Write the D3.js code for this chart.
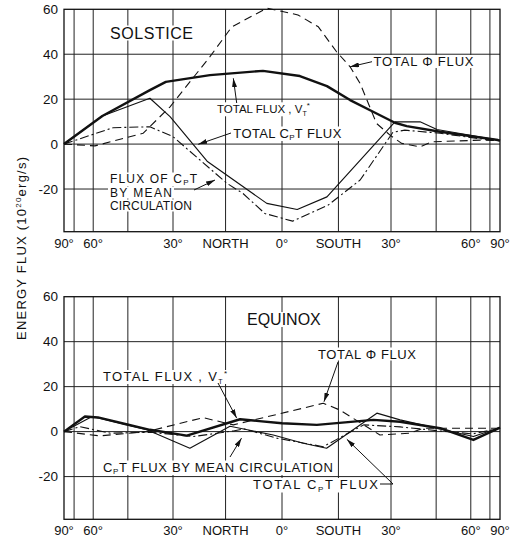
<!DOCTYPE html>
<html>
<head>
<meta charset="utf-8">
<script src="https://cdn.jsdelivr.net/npm/d3@7"></script>
<style>
  html, body { margin: 0; padding: 0; background: #fff; }
  svg { display: block; }
  text { font-family: "Liberation Sans", Arial, sans-serif; fill: #111; }
</style>
</head>
<body>
<svg id="chart" width="524" height="538"></svg>
<script>
// ---- Solstice: meridional energy flux by latitude (10^20 erg/s) ----
const solTotalLat = [90, 55.5, 37.3, 32.2, 19.3, 5, -4.7, -11.9, -18.2, -24.7, -31.2, -34.9, -46.5, -82, -90];
const solTotalVal = [0, 12.5, 24.0, 27.7, 30.7, 32.6, 30.3, 25.8, 19.6, 14.4, 9.5, 8.0, 5.5, 1.8, 1.5];

const solCpTLat = [90, 55.5, 37.3, 30.9, 20.1, 4, -4, -11.9, -31.2, -39.3, -45.3, -82, -90];
const solCpTVal = [0, 12.5, 20.4, 12.2, -7.6, -26.4, -29.1, -23.5, 9.9, 9.9, 6.5, 1.8, 1.5];

const solMeanLat = [90, 50.8, 37.3, 30, 22.1, 14.6, 10.3, 4.5, -2.8, -12.2, -21, -30.6, -34.3, -46.5, -67.2, -90];
const solMeanVal = [0, 7.3, 7.7, 3.3, -7.1, -17.5, -22.0, -30.9, -34.3, -27.2, -16.0, 5.3, 6.2, 4.8, 2.2, 1.5];

const solPhiLat = [90, 59.1, 39.6, 30.9, 19.3, 13.3, 4, -4.2, -9.6, -14.5, -18.2, -21, -25.7, -29.7, -33.3, -39.3, -43.4, -67.2, -90];
const solPhiVal = [0, -0.8, 4.8, 16.6, 38.9, 52.2, 60.5, 57.5, 52.2, 41.1, 34.4, 27.0, 9.2, 4.0, 0.3, -1.2, 1.0, 1.8, 1.5];

// ---- Equinox ----
const eqTotalLat = [90, 64.7, 57.6, 46, 37.3, 25.9, 11.1, 0, -9.2, -24.8, -32.8, -46.5, -61.4, -90];
const eqTotalVal = [0, 6.7, 6.3, 3.4, 0.8, -1.8, 5.5, 3.7, 3.0, 5.2, 4.4, 1.5, -3.7, 1.8];

const eqCpTLat = [90, 60.6, 38.3, 25, 13.8, 2.3, -5.6, -11.8, -25.8, -32.8, -61.4, -90];
const eqCpTVal = [0, 6.7, 0.8, -7.4, 2.4, -1.5, -5.2, -7.4, 8.2, 5.2, -2.2, 1.8];

const eqMeanLat = [90, 68, 52, 37, 24, 12.9, 10, 1.4, -10.9, -22, -32.8, -46.5, -61, -90];
const eqMeanVal = [0, 2.2, -0.7, -0.3, -2.2, 0.3, 1.2, -2.9, -6.7, 3.0, 2.1, 0.3, -1.0, 1.5];

const eqPhiLat = [90, 56.6, 38.3, 21.2, 12.9, -10.9, -15.4, -26.7, -36, -40.4, -90];
const eqPhiVal = [0, -1.9, 0, 6.2, 3.0, 12.6, 9.6, -1.5, -0.7, 1.5, 1.5];

// ---- Axes ----
const yTicks = [60, 40, 20, 0, -20];
const yDomain = [-39, 60];
const gridLats = [72.5, 60, 45, 30, 15, 0, -15, -30, -45, -60, -72.5];
const xTickLats = [90, 60, 30, 15, 0, -15, -30, -60, -90];
const xTickLabels = ["90°", "60°", "30°", "NORTH", "0°", "SOUTH", "30°", "60°", "90°"];

const svg = d3.select("#chart");
const rad = Math.PI / 180;
const left = 64, right = 500;
// area-weighted latitude axis: position is linear in sin(latitude), north on the left
const x = d3.scaleLinear().domain([1, -1]).range([left, right]);
const xLat = lat => x(Math.sin(lat * rad));

const defs = svg.append("defs");
defs.append("marker")
  .attr("id", "head")
  .attr("viewBox", "0 0 9 5")
  .attr("refX", 9).attr("refY", 2.5)
  .attr("markerWidth", 9).attr("markerHeight", 5)
  .attr("markerUnits", "userSpaceOnUse")
  .attr("orient", "auto")
  .append("path").attr("d", "M0,0 L9,2.5 L0,5 Z").attr("fill", "#111");

const zip = (lats, vals) => lats.map((lat, i) => ({ lat, v: vals[i] }));

const styles = {
  total: { w: 2.4, dash: null },
  cpt:   { w: 1.15, dash: null },
  mean:  { w: 1.1, dash: "9,3,2,3" },
  phi:   { w: 1.1, dash: "8,5" }
};

// tspan helpers for the C_pT and V_T* symbols
function cpT(t) {
  t.append("tspan").text("C");
  t.append("tspan").attr("font-size", 8).attr("dy", 2.5).text("P");
  t.append("tspan").attr("dy", -2.5).text("T");
}
function vT(t) {
  t.append("tspan").text("V");
  t.append("tspan").attr("font-size", 7).attr("dy", 3).text("T");
  t.append("tspan").attr("font-size", 8).attr("dy", -8).text("*");
}

const panels = [
  {
    top: 9.3, bottom: 231.7, tickY: 248.3,
    series: [
      { data: zip(solPhiLat, solPhiVal), s: styles.phi },
      { data: zip(solMeanLat, solMeanVal), s: styles.mean },
      { data: zip(solCpTLat, solCpTVal), s: styles.cpt },
      { data: zip(solTotalLat, solTotalVal), s: styles.total }
    ],
    labels: [
      { x: 110, y: 38.5, size: 16, len: 83, build: t => t.text("SOLSTICE") },
      { x: 373.5, y: 66, size: 13, len: 100, build: t => t.text("TOTAL Φ FLUX") },
      { x: 217, y: 113.3, size: 11.5, len: 92, build: t => { t.append("tspan").text("TOTAL FLUX , "); vT(t); } },
      { x: 233.3, y: 137.5, size: 13, len: 108, build: t => { t.append("tspan").text("TOTAL "); cpT(t); t.append("tspan").text(" FLUX"); } },
      { x: 110, y: 182.5, size: 12, len: 87, build: t => { t.append("tspan").text("FLUX OF "); cpT(t); } },
      { x: 110, y: 196.5, size: 12, len: 62, build: t => t.text("BY MEAN") },
      { x: 110, y: 209.5, size: 12, len: 82, build: t => t.text("CIRCULATION") }
    ],
    arrows: [
      { from: [[372, 61.7]], to: [-18.2, 34.4] },
      { from: [[236.7, 103]], to: [12.9, 29.3] },
      { from: [[231, 133]], to: [22.6, -0.1] },
      { from: [[194, 190]], to: [17.9, -16] }
    ]
  },
  {
    top: 296.7, bottom: 519.3, tickY: 535,
    series: [
      { data: zip(eqPhiLat, eqPhiVal), s: styles.phi },
      { data: zip(eqMeanLat, eqMeanVal), s: styles.mean },
      { data: zip(eqCpTLat, eqCpTVal), s: styles.cpt },
      { data: zip(eqTotalLat, eqTotalVal), s: styles.total }
    ],
    labels: [
      { x: 247, y: 325, size: 16, len: 70, build: t => t.text("EQUINOX") },
      { x: 318, y: 358.5, size: 13, len: 98, build: t => t.text("TOTAL Φ FLUX") },
      { x: 103, y: 381, size: 13, len: 124, build: t => { t.append("tspan").text("TOTAL FLUX , "); vT(t); } },
      { x: 103, y: 471.5, size: 13, len: 230, build: t => { cpT(t); t.append("tspan").text(" FLUX BY MEAN CIRCULATION"); } },
      { x: 253, y: 489, size: 13, len: 125, build: t => { t.append("tspan").text("TOTAL "); cpT(t); t.append("tspan").text(" FLUX"); } }
    ],
    arrows: [
      { from: [[338, 362]], to: [-11.1, 13.3] },
      { from: [[218, 383]], to: [12, 6.0] },
      { from: [[230, 457]], to: [10.7, -2.9] },
      { from: [[380, 484], [393, 484]], to: [-17.3, -3.4] }
    ]
  }
];

// widen a label to its measured width by letter spacing
function fitText(t, len) {
  const natural = t.node().getComputedTextLength();
  if (natural < len) t.attr("textLength", len).attr("lengthAdjust", "spacing");
}

panels.forEach(p => {
  const y = d3.scaleLinear().domain(yDomain).range([p.bottom, p.top]);
  const g = svg.append("g");
  const gridG = g.append("g");
  const maskG = g.append("g");
  const curveG = g.append("g");
  const textG = g.append("g");

  // grid
  gridG.selectAll("line.h").data(yTicks.filter(v => v < yDomain[1])).join("line")
    .attr("x1", left).attr("x2", right)
    .attr("y1", d => y(d)).attr("y2", d => y(d))
    .attr("stroke", "#222").attr("stroke-width", 1);
  gridG.selectAll("line.v").data(gridLats).join("line")
    .attr("x1", d => xLat(d)).attr("x2", d => xLat(d))
    .attr("y1", p.top).attr("y2", p.bottom)
    .attr("stroke", "#222").attr("stroke-width", 1);
  gridG.append("rect")
    .attr("x", left).attr("y", p.top)
    .attr("width", right - left).attr("height", p.bottom - p.top)
    .attr("fill", "none").attr("stroke", "#111").attr("stroke-width", 1.3);

  // y tick labels
  g.selectAll("text.yt").data(yTicks).join("text")
    .attr("x", 58).attr("y", d => y(d))
    .attr("dominant-baseline", "central").attr("text-anchor", "end")
    .attr("font-size", 13.5)
    .text(d => d);

  // x tick labels
  g.selectAll("text.xt").data(xTickLats).join("text")
    .attr("x", d => xLat(d)).attr("y", p.tickY)
    .attr("text-anchor", "middle").attr("font-size", 13)
    .text((d, i) => xTickLabels[i]);

  // curves
  const line = d3.line().x(d => xLat(d.lat)).y(d => y(d.v));
  curveG.selectAll("path").data(p.series).join("path")
    .attr("d", d => line(d.data))
    .attr("fill", "none").attr("stroke", "#111")
    .attr("stroke-width", d => d.s.w)
    .attr("stroke-dasharray", d => d.s.dash)
    .attr("stroke-linejoin", "round");

  // labels with white backing that interrupts the grid
  p.labels.forEach(l => {
    const t = textG.append("text")
      .attr("x", l.x).attr("y", l.y)
      .attr("font-size", l.size)
      .style("white-space", "pre");
    l.build(t);
    fitText(t, l.len);
    const b = t.node().getBBox();
    maskG.append("rect")
      .attr("x", b.x - 2).attr("y", b.y + 1)
      .attr("width", b.width + 4).attr("height", b.height - 2)
      .attr("fill", "#fff");
  });

  // arrows
  p.arrows.forEach(a => {
    const pts = a.from.concat([[xLat(a.to[0]), y(a.to[1])]]);
    textG.append("path")
      .attr("d", d3.line()(pts))
      .attr("fill", "none").attr("stroke", "#111").attr("stroke-width", 1)
      .attr("marker-end", "url(#head)");
  });
});

// y-axis title
const yt = svg.append("text")
  .attr("transform", "translate(26,248.5) rotate(-90)")
  .attr("text-anchor", "middle")
  .attr("font-size", 13);
yt.append("tspan").text("ENERGY FLUX (10");
yt.append("tspan").attr("font-size", 8).attr("dy", -5).text("20");
yt.append("tspan").attr("dy", 5).text("erg/s)");
fitText(yt, 183);
</script>
</body>
</html>
